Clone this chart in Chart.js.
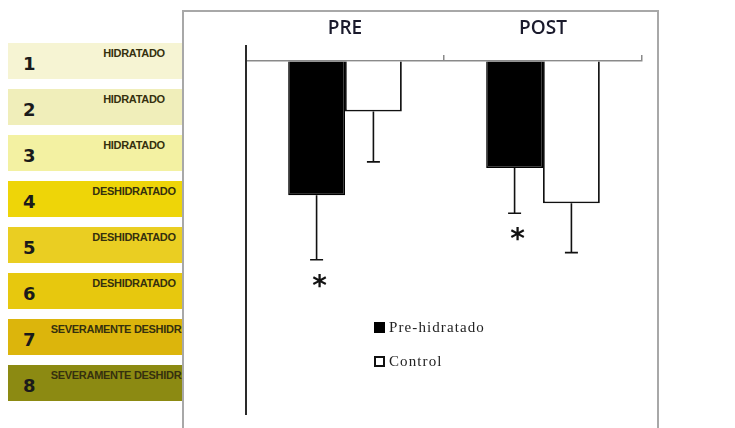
<!DOCTYPE html>
<html>
<head>
<meta charset="utf-8">
<script src="https://cdn.jsdelivr.net/npm/chart.js@4.4.1/dist/chart.umd.min.js"></script>
<style>
  body { margin:0; background:#fff; width:735px; height:428px; overflow:hidden; position:relative; }
  .lvl { position:absolute; left:8px; width:180px; height:36px; }
  .lvl .num { position:absolute; left:15px; top:12px; font:bold 18px "DejaVu Sans",sans-serif; line-height:18px; color:#1a1a1a; }
  .lvl .txt { position:absolute; left:126px; top:4px; transform:translateX(-50%); white-space:nowrap;
              font:bold 11px "Liberation Sans",Arial,sans-serif; line-height:12px; letter-spacing:-0.3px; color:#35300e; }
  #frame { position:absolute; left:182px; top:10px; width:473px; height:418px; border:2px solid #a8a8a8; border-bottom:none; background:#fff; }
  #legend { position:absolute; left:374px; top:317px; font-family:"Liberation Serif",serif; font-size:15px; color:#222; letter-spacing:1.1px; }
  #legend .item { display:flex; align-items:center; height:20px; margin-bottom:14px; }
  #legend .box { width:11px; height:11px; box-sizing:border-box; margin-right:4px; }
</style>
</head>
<body>
<div id="scale"></div>
<div id="frame"><canvas id="chart"></canvas></div>
<div id="legend"></div>
<script>
const categories = ["PRE", "POST"];
const seriesNames = ["Pre-hidratado", "Control"];
const preHidratado = [2.66, 2.12];
const preHidratadoSD = [1.28, 0.90];
const control = [1.00, 2.82];
const controlSD = [1.00, 0.98];
const significant = [true, true];
const yMax = 7;

const levels = [1, 2, 3, 4, 5, 6, 7, 8];
const levelLabels = ["HIDRATADO", "HIDRATADO", "HIDRATADO", "DESHIDRATADO", "DESHIDRATADO",
                     "DESHIDRATADO", "SEVERAMENTE DESHIDRATADO", "SEVERAMENTE DESHIDRATADO"];
const levelColors = ["#f6f4d3", "#f0eeba", "#f3f1a2", "#eed508", "#eace22", "#e7c80e", "#dcb50c", "#8c8a12"];

// urine colour scale on the left
const scaleBox = document.getElementById("scale");
levels.forEach((n, i) => {
  const row = document.createElement("div");
  row.className = "lvl";
  row.style.top = (43 + 46 * i) + "px";
  row.style.background = levelColors[i];
  row.innerHTML = `<span class="num">${n}</span><span class="txt">${levelLabels[i]}</span>`;
  scaleBox.appendChild(row);
});

const errorBars = {
  id: "errorBars",
  afterDatasetsDraw(chart) {
    const { ctx, chartArea, scales: { y } } = chart;
    ctx.save();
    // y axis pokes up past the top axis
    ctx.strokeStyle = "#2a2a2a";
    ctx.lineWidth = 2;
    ctx.beginPath();
    ctx.moveTo(chartArea.left, chartArea.top - 16);
    ctx.lineTo(chartArea.left, chartArea.top);
    ctx.stroke();

    chart.data.datasets.forEach((ds, i) => {
      chart.getDatasetMeta(i).data.forEach((bar, j) => {
        const end = y.getPixelForValue(ds.data[j] + ds.sd[j]);
        ctx.strokeStyle = "#111";
        ctx.lineWidth = 1.6;
        ctx.beginPath();
        ctx.moveTo(bar.x, bar.y);
        ctx.lineTo(bar.x, end);
        ctx.moveTo(bar.x - 6.5, end);
        ctx.lineTo(bar.x + 6.5, end);
        ctx.stroke();
        if (i === 0 && significant[j]) {
          ctx.fillStyle = "#111";
          ctx.font = 'bold 28px "DejaVu Sans"';
          ctx.textAlign = "center";
          ctx.textBaseline = "alphabetic";
          const m = ctx.measureText("*");
          const cy = end + 21;
          ctx.fillText("*", bar.x + 3, cy + (m.actualBoundingBoxAscent - m.actualBoundingBoxDescent) / 2);
        }
      });
    });
    ctx.restore();
  }
};

const chart = new Chart(document.getElementById("chart"), {
  type: "bar",
  data: {
    labels: categories,
    datasets: [
      { label: seriesNames[0], data: preHidratado, sd: preHidratadoSD, backgroundColor: "#000", borderColor: "#000",
        borderWidth: 1.5, categoryPercentage: 0.574, barPercentage: 1 },
      { label: seriesNames[1], data: control, sd: controlSD, backgroundColor: "#fff", borderColor: "#111",
        borderWidth: 1.8, categoryPercentage: 0.574, barPercentage: 1 }
    ]
  },
  options: {
    responsive: true,
    maintainAspectRatio: false,
    animation: false,
    layout: { padding: { left: 0, top: 0, right: 15, bottom: 16 } },
    plugins: { legend: { display: false }, tooltip: { enabled: false } },
    scales: {
      x: {
        position: "top",
        grid: { offset: true, drawOnChartArea: false, tickLength: 6, color: "#8a8a8a", lineWidth: 1.5 },
        border: { color: "#8a8a8a", width: 1.5 },
        ticks: { padding: 15, color: "#1a1a2c", font: { family: "Open Sans", size: 19, weight: "600" } },
        afterFit: s => { s.height = 49; }
      },
      y: {
        reverse: true,
        min: 0,
        max: yMax,
        ticks: { display: false },
        grid: { drawOnChartArea: false, drawTicks: false },
        border: { color: "#2a2a2a", width: 2 },
        afterFit: s => { s.width = 62; }
      }
    }
  },
  plugins: [errorBars]
});

// legend built from the chart datasets
const legend = document.getElementById("legend");
chart.data.datasets.forEach(ds => {
  const item = document.createElement("div");
  item.className = "item";
  item.innerHTML = `<span class="box" style="background:${ds.backgroundColor};border:2px solid ${ds.borderColor}"></span>${ds.label}`;
  legend.appendChild(item);
});
</script>
</body>
</html>
